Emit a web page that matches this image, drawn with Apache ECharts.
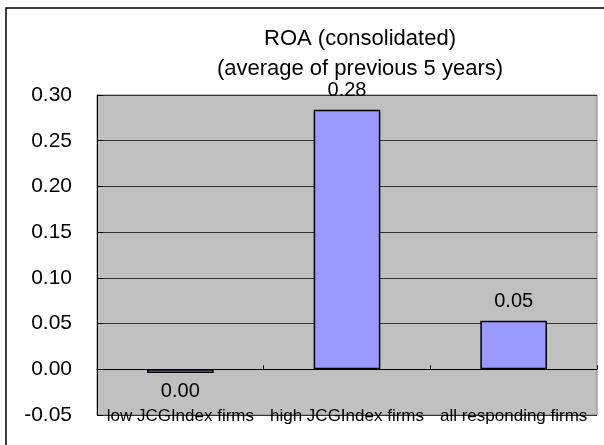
<!DOCTYPE html>
<html>
<head>
<meta charset="utf-8">
<style>
  html, body { margin: 0; padding: 0; background: #ffffff; }
  #chart { width: 604px; height: 445px; }
</style>
<script src="https://cdn.jsdelivr.net/npm/echarts@6/dist/echarts.min.js"></script>
</head>
<body>
<div id="chart"></div>
<script>
// Categories and ROA values (5-year average, consolidated)
const categories = ['low JCGIndex firms', 'high JCGIndex firms', 'all responding firms'];
const roaValues = [-0.004, 0.284, 0.053];
const yTicks = { min: -0.05, max: 0.30, step: 0.05 };

const FONT = 'Liberation Sans, Arial, sans-serif';

function fmt2(v) {
  let s = Number(v).toFixed(2);
  if (s === '-0.00') s = '0.00';
  return s;
}

const barData = roaValues.map(v => ({
  value: v,
  label: { position: v < 0 ? 'bottom' : 'top' }
}));

const chart = echarts.init(document.getElementById('chart'), null, { renderer: 'canvas' });

chart.setOption({
  backgroundColor: '#ffffff',
  animation: false,
  title: {
    text: 'ROA (consolidated)\n(average of previous 5 years)',
    left: 360,
    top: 24,
    padding: 0,
    textAlign: 'center',
    textStyle: {
      fontFamily: FONT,
      fontSize: 22,
      fontWeight: 'normal',
      color: '#000000',
      lineHeight: 30
    }
  },
  graphic: [{
    type: 'rect',
    shape: { x: 6, y: 8, width: 700, height: 500 },
    style: { fill: 'none', stroke: '#000000', lineWidth: 1.5 },
    silent: true,
    z: -1
  }],
  grid: {
    left: 97,
    top: 95,
    right: 7,
    bottom: 30,
    show: true,
    backgroundColor: '#C0C0C0',
    borderColor: '#808080',
    borderWidth: 1
  },
  xAxis: [{
    type: 'category',
    data: categories,
    position: 'bottom',
    axisLine: { show: false, onZero: false },
    axisTick: { show: false },
    axisLabel: {
      margin: -7,
      interval: 0,
      fontFamily: FONT,
      fontSize: 17,
      color: '#000000'
    },
    splitLine: { show: false }
  }, {
    type: 'category',
    data: categories,
    position: 'bottom',
    axisLine: { show: true, onZero: true, lineStyle: { color: '#000000', width: 1 } },
    axisTick: { show: true, inside: true, length: 4, lineStyle: { color: '#000000' } },
    axisLabel: { show: false },
    splitLine: { show: false }
  }],
  yAxis: {
    type: 'value',
    min: yTicks.min,
    max: yTicks.max,
    interval: yTicks.step,
    axisLine: { show: true, lineStyle: { color: '#000000', width: 1 } },
    axisTick: { show: true, inside: true, length: 6, lineStyle: { color: '#000000' } },
    axisLabel: {
      margin: 25,
      fontFamily: FONT,
      fontSize: 21,
      color: '#000000',
      formatter: v => fmt2(v)
    },
    splitLine: { show: true, lineStyle: { color: '#333333', width: 1 } }
  },
  series: [{
    type: 'bar',
    xAxisIndex: 0,
    data: barData,
    barWidth: '40%',
    itemStyle: {
      color: '#9999FF',
      borderColor: '#000000',
      borderWidth: 1.5
    },
    label: {
      show: true,
      distance: 9,
      fontFamily: FONT,
      fontSize: 20,
      color: '#000000',
      formatter: p => fmt2(p.value)
    },
    z: 3
  }]
});
</script>
</body>
</html>
